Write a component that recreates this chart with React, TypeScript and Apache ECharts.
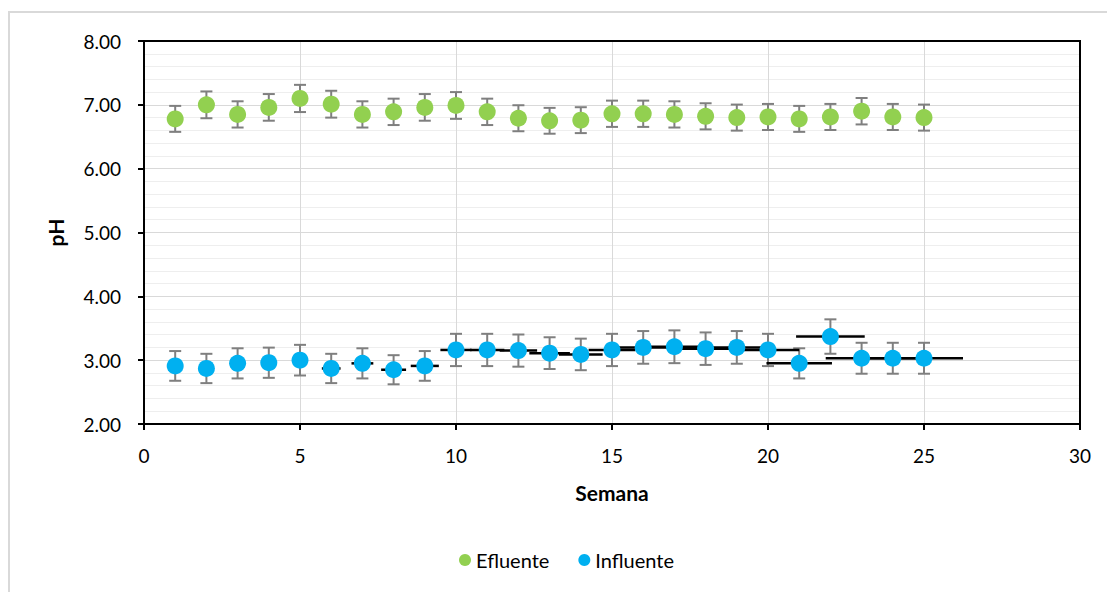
import React, { useEffect, useRef } from "react";
import * as echarts from "echarts";

// Weekly pH readings
const weeks = [1, 2, 3, 4, 5, 6, 7, 8, 9, 10, 11, 12, 13, 14, 15, 16, 17, 18, 19, 20, 21, 22, 23, 24, 25];
const efluente = [6.78, 7.0, 6.85, 6.96, 7.1, 7.01, 6.85, 6.89, 6.96, 6.99, 6.89, 6.79, 6.75, 6.76, 6.86, 6.86, 6.85, 6.82, 6.8, 6.81, 6.78, 6.81, 6.9, 6.81, 6.8];
const influente = [2.91, 2.87, 2.95, 2.96, 3.0, 2.87, 2.95, 2.85, 2.91, 3.16, 3.16, 3.15, 3.11, 3.09, 3.16, 3.2, 3.21, 3.18, 3.2, 3.16, 2.95, 3.37, 3.03, 3.03, 3.03];

// Percentage error bars
const efluenteErrPct = 0.03;
const influenteErrPct = 0.08;
const influenteXErrPct = 0.05;

const yTicks = [2, 3, 4, 5, 6, 7, 8];

const FONT = "Lato, 'Open Sans', sans-serif";

function vBars(values: number[], pct: number) {
  return weeks.map((w, i) => [w, values[i], values[i] * (1 - pct), values[i] * (1 + pct)]);
}

function hBars(values: number[], pct: number) {
  return weeks.map((w, i) => [w, values[i], w * (1 - pct), w * (1 + pct)]);
}

const renderVBar = (params: any, api: any) => {
  const x = api.value(0);
  const lo = api.coord([x, api.value(2)]);
  const hi = api.coord([x, api.value(3)]);
  const cap = 6;
  const style = { stroke: "#7f7f7f", lineWidth: 2 };
  return {
    type: "group",
    children: [
      { type: "line", shape: { x1: lo[0], y1: lo[1], x2: hi[0], y2: hi[1] }, style },
      { type: "line", shape: { x1: lo[0] - cap, y1: lo[1], x2: lo[0] + cap, y2: lo[1] }, style },
      { type: "line", shape: { x1: hi[0] - cap, y1: hi[1], x2: hi[0] + cap, y2: hi[1] }, style },
    ],
  };
};

const renderHBar = (params: any, api: any) => {
  const y = api.value(1);
  const a = api.coord([api.value(2), y]);
  const b = api.coord([api.value(3), y]);
  return {
    type: "line",
    shape: { x1: a[0], y1: a[1], x2: b[0], y2: b[1] },
    style: { stroke: "#000", lineWidth: 2.5 },
  };
};

export default function App() {
  const ref = useRef<HTMLDivElement>(null);

  useEffect(() => {
    if (!ref.current) return;
    const chart = echarts.init(ref.current, null, { renderer: "svg" });
    chart.setOption({
      animation: false,
      backgroundColor: "#fff",
      textStyle: { fontFamily: FONT },
      graphic: [
        {
          type: "rect",
          shape: { x: 9, y: 12, width: 1120, height: 600 },
          style: { fill: "none", stroke: "#d9d9d9", lineWidth: 2 },
          silent: true,
          z: -1,
        },
        {
          // plot area frame
          type: "rect",
          shape: { x: 144, y: 41, width: 936, height: 383 },
          style: { fill: "none", stroke: "#000", lineWidth: 2 },
          silent: true,
          z: 1,
        },
      ],
      grid: {
        left: 144,
        top: 41,
        right: 27,
        bottom: 168,
      },
      legend: {
        data: ["Efluente", "Influente"],
        left: 454,
        top: 545,
        icon: "circle",
        itemWidth: 12,
        itemHeight: 12,
        itemGap: 29,
        textStyle: { fontFamily: FONT, fontSize: 20, color: "#000" },
      },
      xAxis: {
        type: "value",
        min: 0,
        max: 30,
        interval: 5,
        name: "Semana",
        nameLocation: "middle",
        nameGap: 58,
        nameTextStyle: { fontFamily: FONT, fontSize: 21, fontWeight: "bold", color: "#000" },
        axisLine: { show: true, onZero: false, lineStyle: { color: "#000", width: 2 } },
        axisTick: { show: true, length: 6, lineStyle: { color: "#000", width: 2 } },
        axisLabel: { fontFamily: FONT, fontSize: 19, color: "#000", margin: 22 },
        splitLine: { show: true, lineStyle: { color: "#d9d9d9", width: 1 } },
      },
      yAxis: {
        type: "value",
        min: yTicks[0],
        max: yTicks[yTicks.length - 1],
        interval: 1,
        name: "pH",
        nameLocation: "middle",
        nameGap: 78,
        nameTextStyle: { fontFamily: FONT, fontSize: 21, fontWeight: "bold", color: "#000" },
        axisLine: { show: true, lineStyle: { color: "#000", width: 2 } },
        axisTick: { show: true, length: 6, lineStyle: { color: "#000", width: 2 } },
        axisLabel: {
          fontFamily: FONT,
          fontSize: 19,
          color: "#000",
          margin: 23,
          formatter: (v: number) => v.toFixed(2),
        },
        splitLine: { show: true, lineStyle: { color: "#d9d9d9", width: 1 } },
        minorTick: { show: false, splitNumber: 5 },
        minorSplitLine: { show: true, lineStyle: { color: "#eeeeee", width: 1 } },
      },
      series: [
        {
          type: "custom",
          renderItem: renderVBar,
          data: vBars(efluente, efluenteErrPct),
          encode: { x: 0, y: [1, 2, 3] },
          z: 2,
          silent: true,
        },
        {
          type: "custom",
          renderItem: renderVBar,
          data: vBars(influente, influenteErrPct),
          encode: { x: 0, y: [1, 2, 3] },
          z: 2,
          silent: true,
        },
        {
          type: "custom",
          renderItem: renderHBar,
          data: hBars(influente, influenteXErrPct),
          encode: { x: [0, 2, 3], y: 1 },
          z: 2,
          silent: true,
        },
        {
          name: "Efluente",
          type: "scatter",
          symbol: "circle",
          symbolSize: 17,
          itemStyle: { color: "#92d050", opacity: 1 },
          data: weeks.map((w, i) => [w, efluente[i]]),
          z: 3,
        },
        {
          name: "Influente",
          type: "scatter",
          symbol: "circle",
          symbolSize: 17,
          itemStyle: { color: "#00b0f0", opacity: 1 },
          data: weeks.map((w, i) => [w, influente[i]]),
          z: 3,
        },
      ],
    });
    return () => chart.dispose();
  }, []);

  return (
    <div
      ref={ref}
      style={{ position: "fixed", left: 0, top: 0, width: 1107, height: 592 }}
    />
  );
}
